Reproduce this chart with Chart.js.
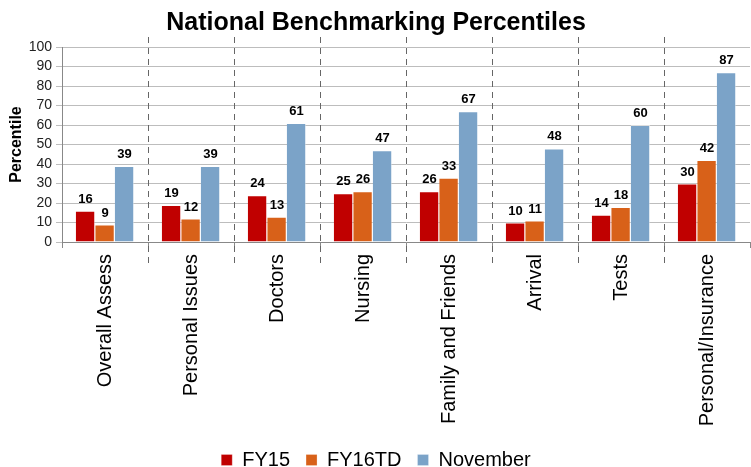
<!DOCTYPE html>
<html>
<head>
<meta charset="utf-8">
<script src="https://cdn.jsdelivr.net/npm/chart.js@4/dist/chart.umd.min.js"></script>
<style>
  html, body { margin: 0; padding: 0; background: #fff; }
  #wrap { width: 751px; height: 467px; }
</style>
</head>
<body>
<div id="wrap"><canvas id="benchChart" width="751" height="467"></canvas></div>
<script>
// chart values
const categories = ['Overall Assess', 'Personal Issues', 'Doctors', 'Nursing', 'Family and Friends', 'Arrival', 'Tests', 'Personal/Insurance'];
const fy15 = [16, 19, 24, 25, 26, 10, 14, 30];
const fy16td = [9, 12, 13, 26, 33, 11, 18, 42];
const november = [39, 39, 61, 47, 67, 48, 60, 87];
const yTicks = [0, 10, 20, 30, 40, 50, 60, 70, 80, 90, 100];

const fontFamily = "'Liberation Sans', Arial, sans-serif";

// dashed separators between categories, reaching a bit into the label area
const separatorPlugin = {
    id: 'separators',
    afterDraw(chart) {
        const ctx = chart.ctx;
        const xs = chart.scales.x;
        const top = chart.chartArea.top - 10;
        const bottom = chart.chartArea.bottom + 25;
        ctx.save();
        ctx.strokeStyle = '#666';
        ctx.lineWidth = 1;
        ctx.setLineDash([6, 5]);
        for (let i = 0; i < categories.length - 1; i++) {
            const x = Math.round((xs.getPixelForValue(i) + xs.getPixelForValue(i + 1)) / 2) + 0.5;
            ctx.beginPath();
            ctx.moveTo(x, top);
            ctx.lineTo(x, bottom);
            ctx.stroke();
        }
        ctx.restore();
    }
};

// value labels on top of each bar
const valueLabelPlugin = {
    id: 'valueLabels',
    afterDatasetsDraw(chart) {
        const ctx = chart.ctx;
        ctx.save();
        ctx.font = 'bold 13px ' + fontFamily;
        ctx.fillStyle = '#000';
        ctx.textAlign = 'center';
        ctx.textBaseline = 'bottom';
        chart.data.datasets.forEach(function(ds, di) {
            chart.getDatasetMeta(di).data.forEach(function(bar, i) {
                ctx.fillText(ds.data[i], bar.x, bar.y - 5);
            });
        });
        ctx.restore();
    }
};

function makeDataset(label, data, color) {
    return {
        label: label,
        data: data,
        backgroundColor: color,
        borderColor: 'rgba(255,255,255,0.5)',
        borderWidth: { top: 1, left: 0, right: 1, bottom: 0 },
        barPercentage: 1.0,
        categoryPercentage: 0.68
    };
}

new Chart(document.getElementById('benchChart'), {
    type: 'bar',
    data: {
        labels: categories,
        datasets: [
            makeDataset('FY15', fy15, '#C00000'),
            makeDataset('FY16TD', fy16td, '#D86119'),
            makeDataset('November', november, '#7BA3C8')
        ]
    },
    options: {
        responsive: false,
        animation: false,
        layout: { padding: { left: 2, right: 1, top: 0, bottom: -13 } },
        plugins: {
            title: {
                display: true,
                text: 'National Benchmarking Percentiles',
                color: '#000',
                font: { family: fontFamily, size: 25, weight: 'bold' },
                padding: { top: 8, bottom: 9 }
            },
            legend: {
                position: 'bottom',
                labels: {
                    color: '#000',
                    boxWidth: 11,
                    boxHeight: 11,
                    padding: 16,
                    font: { family: fontFamily, size: 20 }
                }
            },
            tooltip: { enabled: false }
        },
        scales: {
            x: {
                afterFit(scale) { scale.height = 192; },
                grid: {
                    display: true,
                    drawOnChartArea: false,
                    offset: true,
                    tickLength: 6,
                    color: '#888'
                },
                border: { color: '#888' },
                ticks: {
                    color: '#000',
                    padding: 6,
                    minRotation: 90,
                    maxRotation: 90,
                    font: { family: fontFamily, size: 20 }
                }
            },
            y: {
                min: 0,
                max: 100,
                afterFit(scale) { scale.width = 60; },
                afterBuildTicks(axis) {
                    axis.ticks = yTicks.map(function(v) { return { value: v }; });
                },
                grid: { color: '#bdbdbd', tickLength: 6 },
                border: { color: '#888' },
                ticks: {
                    color: '#222',
                    padding: 4,
                    autoSkip: false,
                    font: { family: fontFamily, size: 14 }
                },
                title: {
                    display: true,
                    text: 'Percentile',
                    color: '#000',
                    font: { family: fontFamily, size: 16, weight: 'bold' },
                    padding: { top: 5, bottom: 0 }
                }
            }
        }
    },
    plugins: [separatorPlugin, valueLabelPlugin]
});
</script>
</body>
</html>
